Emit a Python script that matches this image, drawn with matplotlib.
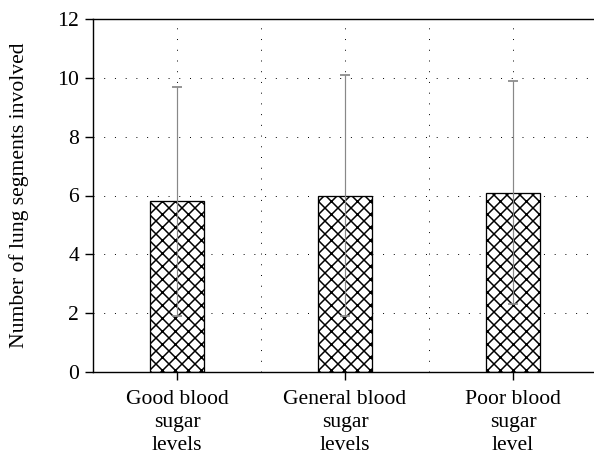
import matplotlib.pyplot as plt
import numpy as np

# Data
groups = ['Good blood\nsugar\nlevels', 'General blood\nsugar\nlevels', 'Poor blood\nsugar\nlevel']
means = [5.8, 6.0, 6.1]
errors = [3.9, 4.1, 3.8]
yticks = [0, 2, 4, 6, 8, 10, 12]

DPI = 78
FS = 20
plt.rcParams['font.family'] = ['Liberation Serif', 'DejaVu Serif']
plt.rcParams['hatch.linewidth'] = 1.4
plt.rcParams['hatch.color'] = 'black'

fig = plt.figure(figsize=(594 / DPI, 460 / DPI), dpi=DPI)
ax = fig.add_axes([93 / 594, 88 / 460, 504 / 594, 353 / 460])

x = np.arange(len(groups))
ax.bar(x, means, width=0.32, color='white', edgecolor='black', linewidth=1.2,
       hatch='xx', zorder=2)
ax.errorbar(x, means, yerr=errors, fmt='none', ecolor='#888888', elinewidth=1.1,
            capsize=5, capthick=1.6, zorder=3)

ax.set_xlim(-0.5, 2.5)
ax.set_ylim(0, 12)
ax.set_yticks(yticks)
ax.set_xticks(x)
ax.set_xticklabels(groups, fontsize=FS, linespacing=1.26)
ax.set_xticks([-0.5, 0.5, 1.5, 2.5], minor=True)
ax.tick_params(axis='x', which='minor', length=0)
ax.tick_params(axis='both', which='major', direction='out', length=7, width=1.3,
               labelsize=FS, pad=6)
ax.tick_params(axis='x', which='major', pad=10)

# dotted grid, vertical lines at bar centres and between bars
dots = (0, (1, 10))
ax.grid(True, which='both', axis='x', color='black', linestyle=dots, linewidth=0.9, zorder=0)
ax.grid(True, which='major', axis='y', color='black', linestyle=dots, linewidth=0.9, zorder=0)
ax.set_axisbelow(True)

for side in ['left', 'bottom', 'top']:
    ax.spines[side].set_linewidth(1.3)
ax.spines['right'].set_visible(False)

ax.set_ylabel('Number of lung segments involved', fontsize=FS, labelpad=26)

fig.savefig('out.png', dpi=DPI)
